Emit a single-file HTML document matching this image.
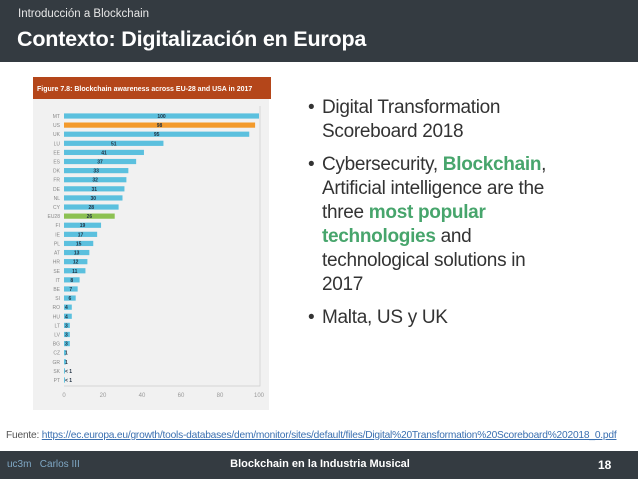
<!DOCTYPE html>
<html><head><meta charset="utf-8"><style>
body{margin:0;width:638px;height:479px;overflow:hidden;background:#fff;font-family:"Liberation Sans",sans-serif;position:relative}
.hdr{position:absolute;left:0;top:0;width:638px;height:62px;background:#343b41}
.sub{position:absolute;left:18px;top:8px;font-size:11.5px;color:#e8e8e8}
.ttl{position:absolute;left:17px;top:27px;font-size:21.5px;color:#fff;font-weight:bold;letter-spacing:-0.2px}
.bul{position:absolute;left:308px;top:96px;width:330px;font-size:19px;color:#333;line-height:24px;letter-spacing:-0.3px;white-space:nowrap}
.bul p{margin:0 0 9px 14px;position:relative}
.bul p:before{content:"•";position:absolute;left:-14px}
.g{color:#47a56c;font-weight:bold}
.src{position:absolute;left:6px;top:430px;font-size:10.2px;color:#555;letter-spacing:-0.2px;white-space:nowrap}
.src a{color:#3a6fb0;text-decoration:underline}
.ftr{position:absolute;left:0;top:451px;width:638px;height:28px;background:#343b41}
.ft{position:absolute;left:0;width:640px;text-align:center;top:7px;font-size:11px;color:#fff;font-weight:bold}
.pg{position:absolute;left:598px;top:7px;font-size:12px;color:#fff;font-weight:bold}
.logo{position:absolute;left:7px;top:8px;font-size:10px;color:#7fa7c4}
</style></head><body>
<div class="hdr">
<div class="sub">Introducción a Blockchain</div>
<div class="ttl">Contexto: Digitalización en Europa</div>
</div>
<svg id="chart" style="position:absolute;left:0;top:0" width="300" height="420"></svg>
<div class="bul">
<p>Digital Transformation<br>Scoreboard 2018</p>
<p>Cybersecurity, <span class="g">Blockchain</span>,<br>Artificial intelligence are the<br>three <span class="g">most popular</span><br><span class="g">technologies</span> and<br>technological solutions in<br>2017</p>
<p>Malta, US y UK</p>
</div>
<div class="src">Fuente: <a>https://ec.europa.eu/growth/tools-databases/dem/monitor/sites/default/files/Digital%20Transformation%20Scoreboard%202018_0.pdf</a></div>
<div class="ftr">
<div class="logo">uc3m &nbsp; Carlos III</div>
<div class="ft">Blockchain en la Industria Musical</div>
<div class="pg">18</div>
</div>
<script>
const categories=["MT","US","UK","LU","EE","ES","DK","FR","DE","NL","CY","EU28","FI","IE","PL","AT","HR","SE","IT","BE","SI","RO","HU","LT","LV","BG","CZ","GR","SK","PT"];
const values=[100,98,95,51,41,37,33,32,31,30,28,26,19,17,15,13,12,11,8,7,6,4,4,3,3,3,1,1,0.5,0.5];
const valueLabels=["100","98","95","51","41","37","33","32","31","30","28","26","19","17","15","13","12","11","8","7","6","4","4","3","3","3","1","1","< 1","< 1"];
const ticks=[0,20,40,60,80,100];
const svg=document.getElementById('chart');const NS="http://www.w3.org/2000/svg";
function mk(t,a,p){const e=document.createElementNS(NS,t);for(const k in a)e.setAttribute(k,a[k]);(p||svg).appendChild(e);return e;}
const x0=64,x1=259,yTop=116,yBot=380;
const xs=v=>x0+(x1-x0)*v/100;
const ys=i=>yTop+(yBot-yTop)*i/(categories.length-1);
let bg=mk('rect',{x:33,y:99,width:236,height:311,fill:'#f1f1f1'});


let hd=mk('rect',{x:33,y:77,width:238,height:22,fill:'#b4461a'});


let ht=mk('text',{x:37,y:91,'font-size':7,fill:'#fff','font-weight':'bold'});ht.textContent='Figure 7.8: Blockchain awareness across EU-28 and USA in 2017';


let ax=mk('path',{d:`M${x0} ${yBot+6}H${x1+1}V106`,stroke:'#ccc',fill:'none','stroke-width':0.7});


categories.forEach((c,i)=>{
 const y=ys(i);
 const col=c==='US'?'#f39a2c':c==='EU28'?'#8cc152':'#5bc0de';
 let r=mk('rect',{x:x0,y:y-2.6,width:xs(values[i])-x0,height:5.2,fill:col});
 
 
 let l=mk('text',{x:60,y:y+2,'font-size':5,fill:'#888','text-anchor':'end'});l.textContent=c;
 
 
 const vx=values[i]<5?x0+1:(x0+xs(values[i]))/2;
 let v=mk('text',{x:vx,y:y+2,'font-size':5,fill:'#234','font-weight':'bold','text-anchor':values[i]<5?'start':'middle'});v.textContent=valueLabels[i];
 
 
});
ticks.forEach(t=>{
 let tl=mk('text',{x:xs(t),y:397,'font-size':6,fill:'#999','text-anchor':'middle'});tl.textContent=t;
 
 
});
</script>
</body></html>
